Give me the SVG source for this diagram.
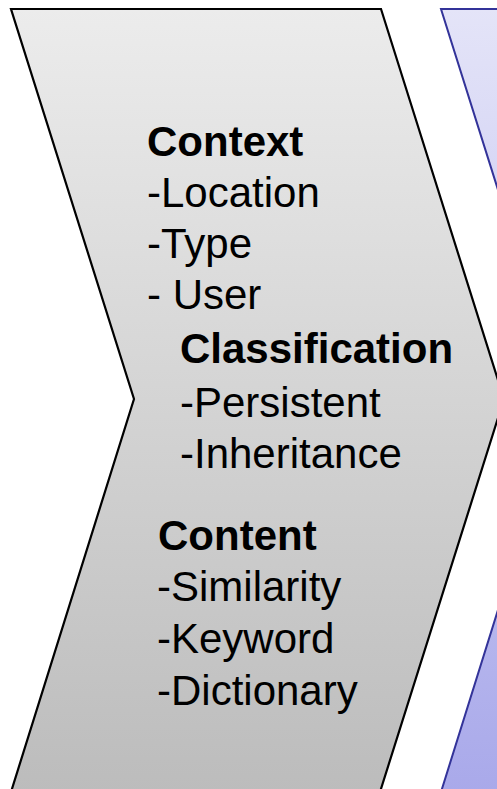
<svg xmlns="http://www.w3.org/2000/svg" width="497" height="789" viewBox="0 0 497 789">
<defs>
<linearGradient id="gGrey" x1="0" y1="0" x2="0" y2="1">
<stop offset="0" stop-color="#ececec"/>
<stop offset="1" stop-color="#bcbcbc"/>
</linearGradient>
<linearGradient id="gBlue" x1="0" y1="0" x2="0" y2="1">
<stop offset="0" stop-color="#e4e4f8"/>
<stop offset="1" stop-color="#a9a9ea"/>
</linearGradient>
<style>
.t{font-family:"Liberation Sans",Arial,sans-serif;font-size:42px;fill:#000}
.b{font-weight:bold}
</style>
</defs>
<rect width="497" height="789" fill="#fff"/>
<g id="stage2">
<polygon points="441,9 811,9 934,399 811,792 441,792 564,399" fill="url(#gBlue)" stroke="#333399" stroke-width="2"/>
</g>
<g id="stage1">
<polygon points="11,9 381,9 504,399 380,792 11,792 134,399" fill="url(#gGrey)" stroke="#000" stroke-width="2.2" stroke-linejoin="miter"/>
<text class="t b" x="147" y="156">Context</text>
<text class="t" x="147" y="207">-Location</text>
<text class="t" x="147" y="258">-Type</text>
<text class="t" x="147" y="309">- User</text>
<text class="t b" x="180" y="363">Classification</text>
<text class="t" x="180" y="417">-Persistent</text>
<text class="t" x="180" y="468">-Inheritance</text>
<text class="t b" x="158" y="550">Content</text>
<text class="t" x="157" y="601">-Similarity</text>
<text class="t" x="157" y="653">-Keyword</text>
<text class="t" x="157" y="705">-Dictionary</text>
</g>
<g id="connectors"/>
</svg>
